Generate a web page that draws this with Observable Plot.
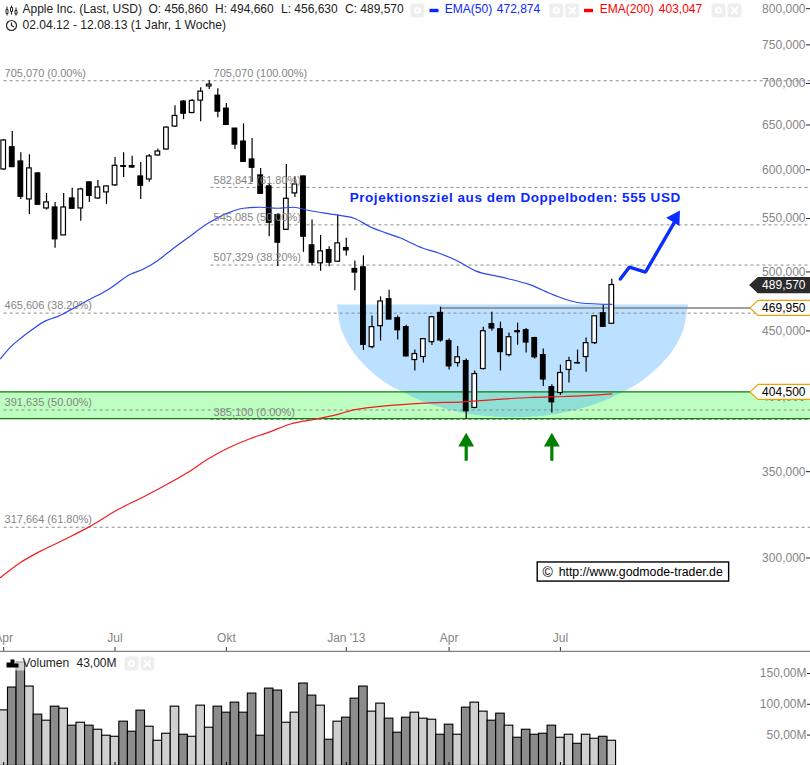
<!DOCTYPE html>
<html><head><meta charset="utf-8">
<script src="https://cdn.jsdelivr.net/npm/d3@7"></script>
<script src="https://cdn.jsdelivr.net/npm/@observablehq/plot@0.6"></script>
<style>html,body{margin:0;padding:0;background:#fff;overflow:hidden}svg{display:block}</style>
</head><body><div id="c"></div>
<script>
const opens=[601.8,626.1,610.4,570.4,597.5,561.3,562.3,534.9,571.4,561.3,588,571.4,577.6,584.9,605.4,605.4,594.3,591.1,617,623.6,649.7,679.3,665.6,680.5,698,686.5,670.8,647.3,632.5,612.6,595.4,583.8,554.7,540.3,576.6,594.3,525.5,508.9,521.1,510.4,523,503.8,505.3,438.2,454.9,477.3,461.4,454.1,428.2,430.5,442.1,465.8,443,425.9,427.4,393.1,421.4,456.5,452.4,432,450.8,451.6,445.3,432,408,403.7,420.7,425.9,430.5,441.3,465.5,456.86];
const highs=[634.8,643.9,619.9,617.7,598.6,576.6,567.4,576.6,581.8,581.8,588.7,590,584.2,614.8,619.9,616.2,609.3,618.1,624.3,649.3,674.4,680.5,681.7,696.4,705.07,695.2,676.9,647.3,652.8,636,602.9,587,556.3,607.1,594,594.7,549.8,534.9,524.2,554.7,532.1,511,515.7,463.3,479.3,485,463.3,455.7,435.9,444.5,463,470.6,444.5,438.7,429,419.9,454.1,466.4,458.2,449.3,457.4,453,446,436.7,409.8,424.4,430.3,435.9,445.3,463,472.5,494.66];
const lows=[600.7,604.3,570.4,555.3,565,559.7,522.7,534.9,560.3,548.5,567.4,570.4,565.4,583.8,593.2,602.9,570.4,588.3,616.2,623.2,648.5,657.8,664.8,655.4,694,660.1,650.8,623.6,609.3,588,575.5,533.7,506,539.7,572.4,519,506.5,501.7,505.9,509.8,515.6,484.5,435.6,436.9,442.9,460.3,443.7,430.5,419.9,425.9,439.5,442.1,420.7,422.9,385.1,392.6,420.7,450.8,419.9,430.5,439.7,433.6,429,408.5,389.6,402,411,425.1,418.9,440.3,454.1,456.63];
const closes=[633.7,604.3,573.1,602.9,565,567.4,531.2,562.3,561,580.7,574.1,582.8,583.8,605.7,604.6,603.9,584.5,615.9,621.4,648.5,662.1,664.8,680.1,691.5,700.2,667.2,651.6,629.1,610,603.6,576.2,547.2,528,571.1,585.9,533.7,509.5,519.9,509.5,527.4,520.8,500.6,440,454.1,475.4,460.3,451.6,431,432.8,444.5,462.2,443.4,423.4,430.3,390.8,417.6,450.8,453,434.3,446,450,441.8,430.3,413.6,397.1,418.4,427.4,425.6,441.3,463,454.3,489.57];
const volumes=[90.2,127.2,168,128.8,83.2,73.4,96.2,92.9,65.3,70.1,65.3,58.7,49,47.3,71.8,55.5,89.7,63.6,40.8,52.2,96.2,50.6,47.3,97.8,62,96.2,86.4,102.7,86.4,117.4,49,125.5,122.3,70.1,86.4,133.7,114.1,97.8,42.5,71.8,78.3,109.2,128.8,88.1,101.1,76.7,53.9,78.3,86.4,76.7,75,50.6,66.9,50.6,94.6,102.7,88.1,73.4,84.8,65.3,45.7,58.7,50.6,52.2,65.3,45.7,50.6,35.9,50.6,44.1,47.3,40.8];

const ema50Idx=[-0.37,0.79,1.96,3.13,4.88,6.28,7.8,9.78,12.12,14.8,16.32,17.96,19.12,21.46,23.91,26.13,28,29.98,31.97,33.84,35.47,38.97,40.84,42.83,46.33,48.9,50.77,52.99,55.09,58,61.5,64.2,67.35,71];
const ema50=[429.2,438.2,445,451.1,459.2,462.7,468.3,476.2,485.3,499,503.8,511.3,518.4,532.4,546.8,556.6,561.5,562.5,561.5,562.5,559.5,554.7,551.8,543,532.4,523,518.4,511,502.1,496.7,489.7,481,474.1,472.87];
const ema200Idx=[-0.37,1.96,4.3,7.41,10.13,13.25,16.36,19.09,21.43,23.76,26.09,28.82,30.77,33.49,36.6,39.32,40.49,44,49.83,53.68,57.65,61.5,65.36,68.51,71];
const ema200=[290.4,298.3,304.4,311.5,318.3,327.6,335.5,343,350.1,358.5,365.6,372.2,376,382,385.5,389.1,391.2,394.2,396.7,397.4,399.1,400.5,401.2,402,403.05];

const fibLeft=[705.07,465.606,391.635,317.664];
const fibLeftText=["705,070 (0.00%)","465,606 (38.20%)","391,635 (50.00%)","317,664 (61.80%)"];
const fibMid=[705.07,582.841,545.085,507.329,385.1];
const fibMidText=["705,070 (100.00%)","582,841 (61.80%)","545,085 (50.00%)","507,329 (38.20%)","385,100 (0.00%)"];

const bowlIdx=[38.97,39.38,40,41,43.07,45.1,47.2,49.2,51.3,53.3,55.4,57.4,59.46,61.5,63.6,65.6,67.7,69.7,71.8,73.8,75.8,77.9,78.9,79.5,79.95];
const bowlLow=[472.4,453.9,443.8,432.9,418.5,408.9,402.4,396.7,392.8,389.7,387.6,386.6,386.2,386.6,387.6,389.7,392.8,396.7,402.4,408.9,418.5,432.9,443.8,453.9,472.4];
const bowlTop=472.4;
const bandTop=404.5, bandBottom=385.7;
const resistance=469.95;

const projIdx=[72,73.06,74.93,78.44];
const projPrice=[494.8,505.5,501,549.4];
const projHead={i:78.4,p:551.7};
const signalIdx=[54,64];
const signalTop=368.1, signalBottom=357.4, signalHead=369.9;

const priceTicks=[800,750,700,650,600,550,500,450,400,350,300];
const timeTicks=[0,13,26,40,52,65];
const timeLabels=["Apr","Jul","Okt","Jan '13","Apr","Jul"];
const volTicks=[50,100,150];
const tagValues=[489.57,469.95,404.5];
const projectionText="Projektionsziel aus dem Doppelboden: 555 USD";

const candles=opens.map((o,i)=>({i,o,h:highs[i],l:lows[i],c:closes[i],v:volumes[i],down:closes[i]<o}));
const xEnd=94.3, xStart=-0.4;
const font="'Liberation Sans',Arial,sans-serif";
const GREY="#858585";

const xScale={type:"linear",domain:[0,71],range:[3.2,611.3]};
const num3=d=>d3.format(".3f")(d).replace(".",",");

function label(t,px,py,fill,extra={}){
  return Plot.text([t],{frameAnchor:"top-left",dx:px,dy:py,textAnchor:"start",lineAnchor:"middle",fill,fontSize:12,...extra});
}
function shape(px,py,draw,extra={}){
  return Plot.dot([0],{frameAnchor:"top-left",dx:px,dy:py,r:1,symbol:{draw},...extra});
}
function box(w,h,rx){return {draw(c){
  const x=-w/2,y=-h/2;
  c.moveTo(x+rx,y);c.lineTo(x+w-rx,y);c.arcTo(x+w,y,x+w,y+rx,rx);c.lineTo(x+w,y+h-rx);c.arcTo(x+w,y+h,x+w-rx,y+h,rx);
  c.lineTo(x+rx,y+h);c.arcTo(x,y+h,x,y+h-rx,rx);c.lineTo(x,y+rx);c.arcTo(x,y,x+rx,y,rx);c.closePath();
}}.draw}
function ringGlyph(c){c.moveTo(2.6,0);c.arc(0,0,2.6,0,Math.PI*2);}
function crossGlyph(c){c.moveTo(-3.5,-3.5);c.lineTo(3.5,3.5);c.moveTo(3.5,-3.5);c.lineTo(-3.5,3.5);}
function pillRing(px,py){return [shape(px,py,box(14,14,3),{fill:"#eeeeee",stroke:"none"}),shape(px,py,ringGlyph,{fill:"none",stroke:"#fff",strokeWidth:2})];}
function pillCross(px,py){return [shape(px,py,box(14,14,3),{fill:"#eeeeee",stroke:"none"}),shape(px,py,crossGlyph,{fill:"none",stroke:"#fff",strokeWidth:2})];}
function candleGlyph(c){
  for(const [x,t,b,bt,bb] of [[-4.5,-4,5,-1,3],[0,-5,4,-3,1],[4.5,-3,5,0,3.5]]){
    c.moveTo(x,t);c.lineTo(x,bt);c.moveTo(x,bb);c.lineTo(x,b);
    c.moveTo(x-1,bt);c.lineTo(x+1,bt);c.lineTo(x+1,bb);c.lineTo(x-1,bb);c.closePath();
  }
}
function clockGlyph(c){c.moveTo(5,0);c.arc(0,0,5,0,Math.PI*2);c.moveTo(0,-3);c.lineTo(0,0);c.lineTo(2.5,1.5);}
function volGlyph(c){c.rect(-6,-1,4,5);c.rect(-2,-4,4,8);c.rect(2,0,4,4);}
function tag(c){c.moveTo(0,-7.5);c.lineTo(-52.5,-7.5);c.lineTo(-60.5,0);c.lineTo(-52.5,7.5);c.lineTo(0,7.5);c.closePath();}

const price=Plot.plot({
  width:810,height:652,marginTop:0,marginBottom:1,marginLeft:0,marginRight:0,
  style:{fontFamily:font,fontSize:"12px",background:"#fff",color:"#000"},
  x:{...xScale,axis:null},
  y:{type:"log",domain:[300,800],range:[558.8,9.5],axis:null},
  marks:[
    Plot.rect([0],{x1:()=>xStart,x2:()=>xEnd,y1:()=>bandBottom,y2:()=>bandTop,fill:"#bdffc0"}),
    Plot.areaY(bowlIdx,{x:d=>d,y1:()=>bowlTop,y2:(d,i)=>bowlLow[i],fill:"rgb(47,160,255)",fillOpacity:0.32,curve:"catmull-rom"}),
    Plot.ruleY(fibLeft,{x1:()=>0.05,x2:()=>xEnd,stroke:"#8a8a8a",strokeDasharray:"3,3"}),
    Plot.ruleY(fibMid.slice(1),{x1:()=>24.2,x2:()=>xEnd,stroke:"#8a8a8a",strokeDasharray:"3,3"}),
    Plot.ruleY([bandTop,bandBottom],{x1:()=>xStart,x2:()=>xEnd,stroke:"#0c7f0c",strokeWidth:1.3}),
    Plot.ruleY([resistance],{x1:()=>51,x2:()=>xEnd,stroke:"#808080",strokeWidth:1.4}),
    Plot.ruleX(candles,{x:"i",y1:"l",y2:"h",stroke:"#000",strokeWidth:1.2}),
    Plot.rect(candles,{x1:d=>d.i-0.27,x2:d=>d.i+0.27,y1:"o",y2:"c",fill:d=>d.down?"#000":"#fff",stroke:"#000",strokeWidth:1.2}),
    Plot.line(ema200Idx,{x:d=>d,y:(d,i)=>ema200[i],stroke:"#f01c1c",strokeWidth:1.2,curve:"monotone-x"}),
    Plot.line(ema50Idx,{x:d=>d,y:(d,i)=>ema50[i],stroke:"#2a48ee",strokeWidth:1.2,curve:"monotone-x"}),
    Plot.line(projIdx,{x:d=>d,y:(d,i)=>projPrice[i],stroke:"#0a2dff",strokeWidth:3.4,strokeLinejoin:"miter"}),
    Plot.dot([projHead],{x:"i",y:"p",symbol:"triangle",r:5.8,rotate:32,fill:"#0a2dff",stroke:"none"}),
    Plot.ruleX(signalIdx,{x:d=>d,y1:()=>signalBottom,y2:()=>signalTop,stroke:"#008000",strokeWidth:3.2}),
    Plot.dot(signalIdx,{x:d=>d,y:()=>signalHead,symbol:"triangle",r:5.9,fill:"#008000",stroke:"none"}),
    Plot.text(fibLeft,{x:()=>0.1,y:d=>d,dy:-7.3,text:(d,i)=>fibLeftText[i],textAnchor:"start",fill:GREY,fontSize:11}),
    Plot.text(fibMid,{x:()=>24.5,y:d=>d,dy:-7.3,text:(d,i)=>fibMidText[i],textAnchor:"start",fill:GREY,fontSize:11}),
    Plot.text([projectionText],{x:()=>40.4,y:()=>572.3,textAnchor:"start",fill:"#0a28ff",fontSize:13.5,fontWeight:"bold"}),
    Plot.axisX(timeTicks,{anchor:"bottom",label:null,tickSize:-4,tickPadding:-14,lineAnchor:"top",stroke:"#333",fill:GREY,fontSize:12,tickFormat:(d,i)=>timeLabels[timeTicks.indexOf(d)]}),
    Plot.frame({anchor:"bottom",stroke:"#808080",strokeWidth:1.4}),
    Plot.axisY(priceTicks,{anchor:"right",label:null,tickSize:-5,tickPadding:0,textAnchor:"end",stroke:"#222",fill:GREY,fontSize:12,dy:-1.3,tickFormat:num3}),
    Plot.dot(tagValues,{y:d=>d,frameAnchor:"right",r:1,symbol:{draw:tag},fill:(d,i)=>i===0?"#2b2b2b":"#fff",stroke:(d,i)=>i===0?"#2b2b2b":"#e5a50a",strokeWidth:1.2}),
    Plot.text(tagValues,{y:d=>d,frameAnchor:"right",dx:-5,textAnchor:"end",text:num3,fill:(d,i)=>i===0?"#fff":"#000",fontSize:12}),
    Plot.rect([0],{x1:()=>62.35,x2:()=>84.7,y1:()=>288.3,y2:()=>298.3,fill:"#fff",stroke:"#000",strokeWidth:1.4}),
    Plot.text(["©"],{x:()=>62.9,y:()=>293,textAnchor:"start",fontSize:14,fill:"#000"}),
    Plot.text(["http://www.godmode-trader.de"],{x:()=>64.8,y:()=>293,textAnchor:"start",fontSize:12.3,fill:"#000"}),
    shape(11,10,candleGlyph,{fill:"none",stroke:"#222",strokeWidth:1}),
    shape(11,25,clockGlyph,{fill:"none",stroke:"#222",strokeWidth:1.2}),
    label("Apple Inc. (Last, USD)",22,9,"#222"),
    label("O: 456,860",148,9,"#222"),
    label("H: 494,660",214.5,9,"#222"),
    label("L: 456,630",280.5,9,"#222"),
    label("C: 489,570",344.5,9,"#222"),
    label("02.04.12 - 12.08.13 (1 Jahr, 1 Woche)",22,25,"#222",{fontSize:12.1}),
    pillRing(417,10),
    shape(433.5,10,box(9,3.4,0),{fill:"#0a28ff",stroke:"none"}),
    label("EMA(50)",444.3,9,"#0a28ff"),
    label("472,874",496.3,9,"#0a28ff"),
    pillRing(555.7,10),pillCross(571.7,10),
    shape(588,10,box(9,3.4,0),{fill:"#ff0000",stroke:"none"}),
    label("EMA(200)",599.3,9,"#ff0000"),
    label("403,047",658.3,9,"#ff0000"),
    pillRing(718,10),pillCross(734,10)
  ]
});
d3.select(price).selectAll("text").filter(function(){return this.textContent===projectionText;}).style("letter-spacing","0.55px");

const volume=Plot.plot({
  width:810,height:113,marginTop:0,marginBottom:0,marginLeft:0,marginRight:0,
  style:{fontFamily:font,fontSize:"12px",background:"#fff",color:"#000"},
  x:{...xScale,axis:null},
  y:{type:"linear",domain:[0,150],range:[113.4,21],axis:null},
  marks:[
    Plot.rect(candles,{x1:d=>d.i-0.5,x2:d=>d.i+0.5,y1:()=>0,y2:"v",fill:d=>d.down?"#8c8c8c":"#d0d0d0",stroke:"#000",strokeWidth:1.1}),
    Plot.axisX(timeTicks,{anchor:"bottom",label:null,tickSize:-3,tickFormat:()=>"",stroke:"#000"}),
    Plot.axisY(volTicks,{anchor:"right",label:null,tickSize:-4,tickPadding:0,textAnchor:"end",stroke:"#222",fill:GREY,fontSize:12,tickFormat:d=>d+",00M"}),
    shape(15,11,box(18,14,0),{fill:"#fff",fillOpacity:0.6,stroke:"none"}),
    shape(12,11,volGlyph,{fill:"#000",stroke:"none"}),
    label("Volumen",22,11,"#222"),
    label("43,00M",76,11,"#222"),
    pillRing(131,11),pillCross(147,11)
  ]
});
const c=document.getElementById("c");
c.append(price,volume);
</script></body></html>
